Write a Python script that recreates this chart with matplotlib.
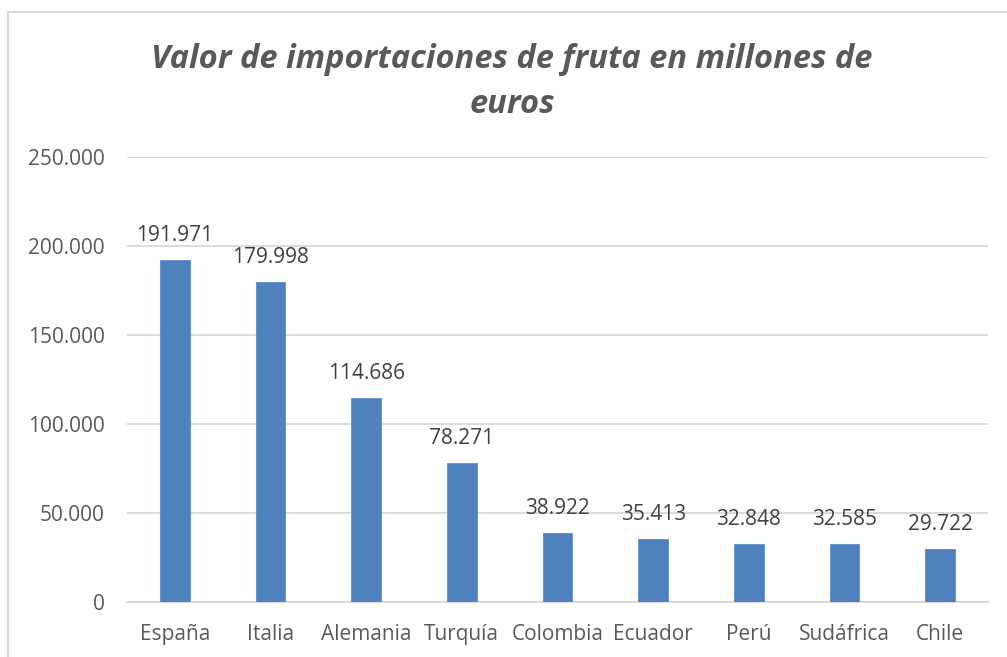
import matplotlib
matplotlib.use("Agg")
import matplotlib.pyplot as plt
from matplotlib.patches import Rectangle
import numpy as np

# data
paises = ["España", "Italia", "Alemania", "Turquía", "Colombia",
          "Ecuador", "Perú", "Sudáfrica", "Chile"]
valores = [191971, 179998, 114686, 78271, 38922, 35413, 32848, 32585, 29722]
yticks = [0, 50000, 100000, 150000, 200000, 250000]

def miles(v):
    # formato con punto de miles
    return "{:,}".format(int(v)).replace(",", ".")

plt.rcParams['font.family'] = ['Open Sans', 'DejaVu Sans']
gris = "#595959"

fig = plt.figure(figsize=(10.07, 6.57), dpi=100)

# chart border
fig.patches.append(Rectangle((8/1007, -0.1), 1.1, 1 - 12/657 + 0.1,
                             transform=fig.transFigure, fill=False,
                             edgecolor="#d9d9d9", linewidth=1.5))

ax = fig.add_axes([127/1007, 1 - 602/657, (988 - 127)/1007, (602 - 157)/657])
x = np.arange(len(paises))
bars = ax.bar(x, valores, width=0.31, color="#4f81bd", edgecolor="#5b8fd0", linewidth=0.6, zorder=3)

for xi, v in zip(x, valores):
    ax.annotate(miles(v), (xi, v), xytext=(0, 10), textcoords="offset points",
                ha="center", va="bottom", fontsize=15, color="#404040")

ax.set_xlim(-0.5, len(paises) - 0.5)
ax.set_ylim(0, 250000)
ax.set_yticks(yticks)
ax.set_yticklabels([miles(t) for t in yticks])
ax.set_xticks(x)
ax.set_xticklabels(paises)
ax.tick_params(axis="y", length=0, pad=16, labelsize=15, labelcolor=gris)
ax.tick_params(axis="x", length=0, pad=16, labelsize=15, labelcolor=gris)
ax.grid(axis="y", color="#d9d9d9", linewidth=1.3, zorder=0)
for s in ["top", "right", "left"]:
    ax.spines[s].set_visible(False)
ax.spines["bottom"].set_color("#d9d9d9")
ax.spines["bottom"].set_linewidth(1.3)

fig.text(512/1007, 1 - 82/657, "Valor de importaciones de fruta en millones de\neuros",
         ha="center", va="center", fontsize=23.5, fontweight="bold", fontstyle="italic",
         color=gris, linespacing=1.45)

fig.savefig("out.png", dpi=100)
